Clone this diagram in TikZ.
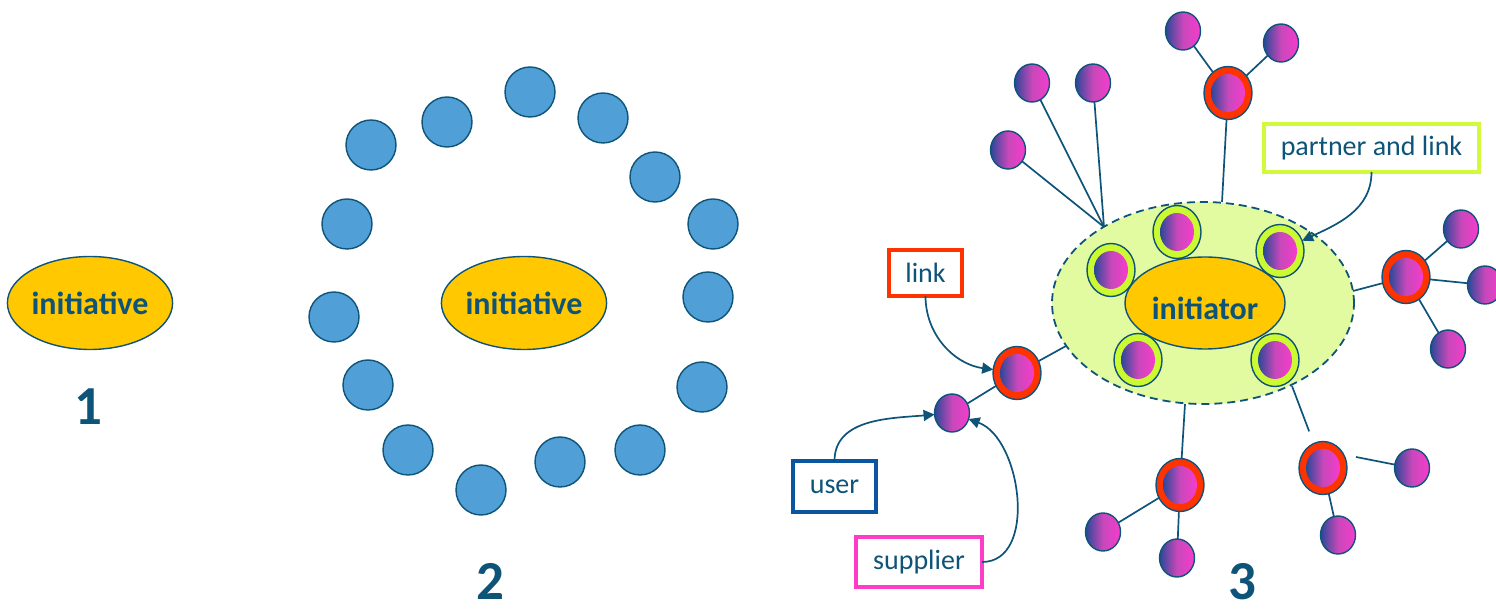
\documentclass[tikz,border=0pt]{standalone}
\usepackage{fontspec}
\setmainfont{Carlito}
\usetikzlibrary{shapes.geometric,arrows.meta}
\definecolor{ink}{RGB}{14,84,121}
\definecolor{gold}{RGB}{255,200,0}
\definecolor{sky}{RGB}{81,159,215}
\definecolor{lime}{RGB}{226,251,160}
\definecolor{ringg}{RGB}{204,250,50}
\definecolor{ringr}{RGB}{255,51,0}
\definecolor{gB}{RGB}{40,72,152}
\definecolor{gM}{RGB}{200,72,186}
\definecolor{gP}{RGB}{246,60,204}
\definecolor{boxb}{RGB}{10,85,160}
\definecolor{boxm}{RGB}{255,60,200}
\definecolor{boxg}{RGB}{210,250,60}
\begin{document}
\begin{tikzpicture}[x=0.5pt,y=-0.5pt,
 every node/.style={inner sep=0pt, outer sep=0pt},
 initell/.style={ellipse, draw=ink, line width=0.7pt, fill=gold, minimum width=80pt, minimum height=46.5pt, font=\fontsize{16}{18}\selectfont\bfseries, text=ink},
 bigword/.style={font=\fontsize{16}{18}\selectfont\bfseries, text=ink, anchor=base},
 dot/.style={circle, draw=ink, line width=0.7pt, fill=sky, minimum size=25pt},
 num/.style={font=\fontsize{27.5}{30}\selectfont\bfseries, text=ink, anchor=base},
 leaf/.style={ellipse, draw=ink, line width=0.7pt, minimum width=17.5pt, minimum height=19pt, left color=gB, right color=gP, middle color=gM},
 ring/.style={ellipse, draw=ink, line width=0.7pt, minimum width=24pt, minimum height=26.5pt},
 kern/.style={ellipse, minimum width=17pt, minimum height=19pt, left color=gB, right color=gP, middle color=gM},
 tag/.style={rectangle, draw=#1, line width=2pt, fill=white, text=ink, font=\fontsize{14}{16}\selectfont},
 wire/.style={draw=ink, line width=0.85pt},
 arr/.style={draw=ink, line width=0.85pt, -{Triangle[length=5.5pt,width=5.5pt]}},
]
\useasboundingbox (0,0) rectangle (1496,614);

% ---- panel 1
\node[initell] (e1) at (90,303) {initiative};
\node[num] (n1) at (88,425) {1};

% ---- panel 2
\node[initell] (e2) at (524,303) {initiative};
\foreach \x/\y [count=\i] in {530/92,603/118,655/177,713/224,708/297,702/387,640/450,560/462,481/490,408/450,368/385,334/317,347/224,371/145,447/122}
  \node[dot] (d\i) at (\x,\y) {};
\node[num] (n2) at (490,600) {2};

% ---- panel 3
\node[ellipse, draw=ink, dash pattern=on 4pt off 2.5pt, line width=0.9pt, fill=lime, minimum width=151pt, minimum height=101pt] (cloud) at (1203,303) {};
\node[initell, minimum height=46pt] (initr) at (1205,303) {};
\node[bigword] (initT) at (1205,320) {initiator};

\foreach \n/\x/\y in {g1/1111/270, g2/1177/232, g3/1280/251, g4/1138/360, g5/1275/360}{
  \node[ring, fill=ringg] (\n) at (\x,\y) {};
  \node[kern] (\n-c) at (\x,\y) {};
}
\foreach \n/\x/\y in {rA/1017/373, rT/1228/93, rR/1406/277, rB1/1180/485, rB2/1323/468}{
  \node[ring, fill=ringr] (\n) at (\x,\y) {};
  \node[kern] (\n-c) at (\x,\y) {};
}
\foreach \n/\x/\y in {lU/952/413, lT1/1183/31, lT2/1281/43, lF1/1032/83, lF2/1093/83, lF3/1008/150, lR1/1461/229, lR2/1485/285, lR3/1448/349, lB1a/1103/532, lB1b/1177/558, lB2a/1412/468, lB2b/1338/535}
  \node[leaf] (\n) at (\x,\y) {};

% anchor points on the dashed ellipse
\coordinate (cA) at (1066,346);
\coordinate (cT) at (1222,202);
\coordinate (cF) at (1104,227);
\coordinate (cR) at (1353,291);
\coordinate (cB1) at (1185,404);
\coordinate (cB2) at (1292,386);
\coordinate (qB2) at (1356,457);

\draw[wire] (rA) -- (cA);
\draw[wire] (rA) -- (lU);
\draw[wire] (cT) -- (rT);
\draw[wire] (rT) -- (lT1);
\draw[wire] (rT) -- (lT2);
\draw[wire] (cF) -- (lF1);
\draw[wire] (cF) -- (lF2);
\draw[wire] (cF) -- (lF3);
\draw[wire] (cR) -- (rR);
\draw[wire] (rR) -- (lR1);
\draw[wire] (rR) -- (lR2);
\draw[wire] (rR) -- (lR3);
\draw[wire] (cB1) -- (rB1);
\draw[wire] (rB1) -- (lB1a);
\draw[wire] (rB1) -- (lB1b);
\draw[wire, shorten >=6.5pt] (cB2) -- (rB2);
\draw[wire] (qB2) -- (lB2a);
\draw[wire] (rB2) -- (lB2b);

% labels
\node[tag=boxg, minimum width=107.5pt, minimum height=24pt] (partner) at (1371.5,148) {partner and link};
\node[tag=ringr, minimum width=36.5pt, minimum height=23pt] (link) at (925.5,273) {link};
\node[tag=boxb, minimum width=41.5pt, minimum height=25.5pt] (user) at (834.5,486.5) {user};
\node[tag=boxm, minimum width=63pt, minimum height=25pt] (supplier) at (919,562) {supplier};

\draw[arr] (partner.south) to[out=-90,in=25] (g3);
\draw[arr] (link.south) to[out=-90,in=172] (rA);
\draw[arr] (user.north) to[out=90,in=185] (lU);
\draw[arr] (supplier.east) to[out=0,in=-20] (lU);

\node[num] (n3) at (1242,600) {3};
\end{tikzpicture}
\end{document}
